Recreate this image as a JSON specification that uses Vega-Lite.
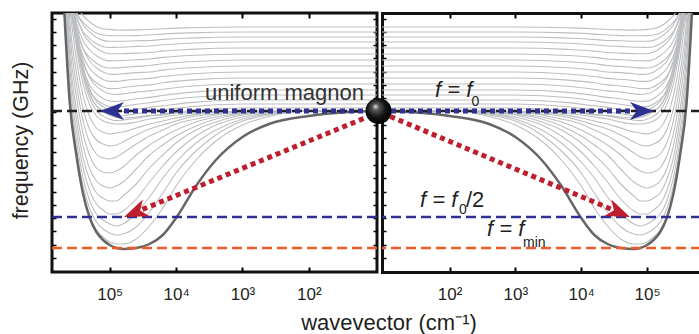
{
"$schema": "https://vega.github.io/schema/vega-lite/v6.json",
"padding": {"left": 8, "top": 10, "right": 0, "bottom": 0},
"background": "white",
"bounds": "flush",
"spacing": 5,
"config": {
  "font": "Liberation Sans",
  "view": {"stroke": null},
  "axis": {"grid": false, "domain": false, "tickColor": "#000", "labelColor": "#231f20", "titleColor": "#231f20", "labelFont": "Liberation Sans", "titleFont": "Liberation Sans", "titleFontWeight": "normal"}
},
"datasets": {
"levels": [{"f": 212, "n": "f0"}, {"f": 106, "n": "half"}, {"f": 75, "n": "min"}],
"dark": [
{"k":9.4,"f":212},{"k":31.6,"f":210.5},{"k":100,"f":207},{"k":398,"f":199},{"k":1000,"f":186},{"k":2512,"f":163},{"k":5012,"f":137},{"k":10000,"f":105},{"k":15849,"f":88},{"k":25119,"f":79},{"k":39811,"f":75},{"k":63096,"f":74},{"k":79433,"f":75},{"k":100000,"f":78},{"k":125893,"f":83},{"k":158489,"f":91},{"k":199526,"f":105},{"k":251189,"f":129},{"k":316228,"f":167},{"k":398107,"f":219},{"k":501187,"f":332}
],
"gray": [
{"c":"L1","k":9.4,"f":212},{"c":"L1","k":100,"f":212},{"c":"L1","k":398,"f":206.5},{"c":"L1","k":1000,"f":198},{"c":"L1","k":2512,"f":182},{"c":"L1","k":5012,"f":163},{"c":"L1","k":10000,"f":137},{"c":"L1","k":15849,"f":115},{"c":"L1","k":25119,"f":97},{"c":"L1","k":39811,"f":84},{"c":"L1","k":63096,"f":79},{"c":"L1","k":79433,"f":79},{"c":"L1","k":100000,"f":81},{"c":"L1","k":125893,"f":86},{"c":"L1","k":158489,"f":93},{"c":"L1","k":199526,"f":106},{"c":"L1","k":251189,"f":129},{"c":"L1","k":316228,"f":167},{"c":"L1","k":398107,"f":219},{"c":"L1","k":501187,"f":332},
{"c":"L2","k":9.4,"f":212},{"c":"L2","k":100,"f":212},{"c":"L2","k":398,"f":208},{"c":"L2","k":1000,"f":202},{"c":"L2","k":2512,"f":188},{"c":"L2","k":5012,"f":172},{"c":"L2","k":10000,"f":150},{"c":"L2","k":15849,"f":130},{"c":"L2","k":25119,"f":111},{"c":"L2","k":39811,"f":96},{"c":"L2","k":63096,"f":89},{"c":"L2","k":79433,"f":88},{"c":"L2","k":100000,"f":90},{"c":"L2","k":125893,"f":94},{"c":"L2","k":158489,"f":101},{"c":"L2","k":199526,"f":114},{"c":"L2","k":251189,"f":137},{"c":"L2","k":316228,"f":174},{"c":"L2","k":398107,"f":226},{"c":"L2","k":501187,"f":339},
{"c":"L3","k":9.4,"f":212},{"c":"L3","k":100,"f":212},{"c":"L3","k":398,"f":209},{"c":"L3","k":1000,"f":204},{"c":"L3","k":2512,"f":193},{"c":"L3","k":5012,"f":180},{"c":"L3","k":10000,"f":161},{"c":"L3","k":15849,"f":145},{"c":"L3","k":25119,"f":126},{"c":"L3","k":39811,"f":110},{"c":"L3","k":63096,"f":99},{"c":"L3","k":79433,"f":97},{"c":"L3","k":100000,"f":99},{"c":"L3","k":125893,"f":103},{"c":"L3","k":158489,"f":109},{"c":"L3","k":199526,"f":122},{"c":"L3","k":251189,"f":145},{"c":"L3","k":316228,"f":182},{"c":"L3","k":398107,"f":234},{"c":"L3","k":501187,"f":347},
{"c":"L4","k":9.4,"f":212},{"c":"L4","k":100,"f":212},{"c":"L4","k":398,"f":210},{"c":"L4","k":1000,"f":206},{"c":"L4","k":2512,"f":198},{"c":"L4","k":5012,"f":187},{"c":"L4","k":10000,"f":171},{"c":"L4","k":15849,"f":157},{"c":"L4","k":25119,"f":141},{"c":"L4","k":39811,"f":124},{"c":"L4","k":63096,"f":112},{"c":"L4","k":79433,"f":109},{"c":"L4","k":100000,"f":109},{"c":"L4","k":125893,"f":113},{"c":"L4","k":158489,"f":119},{"c":"L4","k":199526,"f":132},{"c":"L4","k":251189,"f":155},{"c":"L4","k":316228,"f":192},{"c":"L4","k":398107,"f":243},{"c":"L4","k":501187,"f":356},
{"c":"L5","k":9.4,"f":212},{"c":"L5","k":100,"f":212},{"c":"L5","k":398,"f":211},{"c":"L5","k":1000,"f":208},{"c":"L5","k":2512,"f":201},{"c":"L5","k":5012,"f":193},{"c":"L5","k":10000,"f":180},{"c":"L5","k":15849,"f":168},{"c":"L5","k":25119,"f":155},{"c":"L5","k":39811,"f":139},{"c":"L5","k":63096,"f":127},{"c":"L5","k":79433,"f":122},{"c":"L5","k":100000,"f":122},{"c":"L5","k":125893,"f":125},{"c":"L5","k":158489,"f":130},{"c":"L5","k":199526,"f":143},{"c":"L5","k":251189,"f":165},{"c":"L5","k":316228,"f":203},{"c":"L5","k":398107,"f":254},{"c":"L5","k":501187,"f":367},
{"c":"L6","k":9.4,"f":212},{"c":"L6","k":100,"f":212},{"c":"L6","k":398,"f":211},{"c":"L6","k":1000,"f":209},{"c":"L6","k":2512,"f":204},{"c":"L6","k":5012,"f":197},{"c":"L6","k":10000,"f":187},{"c":"L6","k":15849,"f":178},{"c":"L6","k":25119,"f":168},{"c":"L6","k":39811,"f":154},{"c":"L6","k":63096,"f":141},{"c":"L6","k":79433,"f":137},{"c":"L6","k":100000,"f":135},{"c":"L6","k":125893,"f":137},{"c":"L6","k":158489,"f":142},{"c":"L6","k":199526,"f":154},{"c":"L6","k":251189,"f":177},{"c":"L6","k":316228,"f":213},{"c":"L6","k":398107,"f":265},{"c":"L6","k":501187,"f":377},
{"c":"L7","k":9.4,"f":212},{"c":"L7","k":398,"f":212},{"c":"L7","k":1000,"f":210},{"c":"L7","k":2512,"f":206},{"c":"L7","k":5012,"f":201},{"c":"L7","k":10000,"f":193},{"c":"L7","k":15849,"f":186},{"c":"L7","k":25119,"f":178},{"c":"L7","k":39811,"f":168},{"c":"L7","k":63096,"f":156},{"c":"L7","k":79433,"f":152},{"c":"L7","k":100000,"f":150},{"c":"L7","k":125893,"f":151},{"c":"L7","k":158489,"f":155},{"c":"L7","k":199526,"f":167},{"c":"L7","k":251189,"f":189},{"c":"L7","k":316228,"f":226},{"c":"L7","k":398107,"f":277},{"c":"L7","k":501187,"f":389},
{"c":"L8","k":9.4,"f":212},{"c":"L8","k":398,"f":212},{"c":"L8","k":1000,"f":211},{"c":"L8","k":2512,"f":208},{"c":"L8","k":5012,"f":204},{"c":"L8","k":10000,"f":199},{"c":"L8","k":15849,"f":193},{"c":"L8","k":25119,"f":187},{"c":"L8","k":39811,"f":179},{"c":"L8","k":63096,"f":170},{"c":"L8","k":79433,"f":166},{"c":"L8","k":100000,"f":164},{"c":"L8","k":125893,"f":165},{"c":"L8","k":158489,"f":169},{"c":"L8","k":199526,"f":180},{"c":"L8","k":251189,"f":202},{"c":"L8","k":316228,"f":238},{"c":"L8","k":398107,"f":289},{"c":"L8","k":501187,"f":400},
{"c":"L9","k":9.4,"f":212},{"c":"L9","k":398,"f":212},{"c":"L9","k":1000,"f":211},{"c":"L9","k":2512,"f":209},{"c":"L9","k":5012,"f":207},{"c":"L9","k":10000,"f":202},{"c":"L9","k":15849,"f":198},{"c":"L9","k":25119,"f":194},{"c":"L9","k":39811,"f":188},{"c":"L9","k":63096,"f":181},{"c":"L9","k":79433,"f":178},{"c":"L9","k":100000,"f":177},{"c":"L9","k":125893,"f":179},{"c":"L9","k":158489,"f":183},{"c":"L9","k":199526,"f":193},{"c":"L9","k":251189,"f":214},{"c":"L9","k":316228,"f":250},{"c":"L9","k":398107,"f":301},{"c":"L9","k":501187,"f":412},
{"c":"L10","k":9.4,"f":212},{"c":"L10","k":1000,"f":212},{"c":"L10","k":2512,"f":210.5},{"c":"L10","k":5012,"f":208.6},{"c":"L10","k":10000,"f":205},{"c":"L10","k":15849,"f":202},{"c":"L10","k":25119,"f":199},{"c":"L10","k":39811,"f":195},{"c":"L10","k":63096,"f":191},{"c":"L10","k":79433,"f":190},{"c":"L10","k":100000,"f":189},{"c":"L10","k":125893,"f":191},{"c":"L10","k":158489,"f":195},{"c":"L10","k":199526,"f":206},{"c":"L10","k":251189,"f":227},{"c":"L10","k":316228,"f":263},{"c":"L10","k":398107,"f":313},
{"c":"L11","k":9.4,"f":212},{"c":"L11","k":2512,"f":211},{"c":"L11","k":5012,"f":210},{"c":"L11","k":10000,"f":208},{"c":"L11","k":15849,"f":206},{"c":"L11","k":25119,"f":204},{"c":"L11","k":39811,"f":201},{"c":"L11","k":63096,"f":199},{"c":"L11","k":79433,"f":199},{"c":"L11","k":100000,"f":200},{"c":"L11","k":125893,"f":202},{"c":"L11","k":158489,"f":207},{"c":"L11","k":199526,"f":218},{"c":"L11","k":251189,"f":239},{"c":"L11","k":316228,"f":275},{"c":"L11","k":398107,"f":325},
{"c":"L12","k":9.4,"f":212},{"c":"L12","k":5012,"f":211},{"c":"L12","k":10000,"f":210},{"c":"L12","k":15849,"f":208},{"c":"L12","k":25119,"f":207.5},{"c":"L12","k":39811,"f":206},{"c":"L12","k":63096,"f":205},{"c":"L12","k":79433,"f":205.5},{"c":"L12","k":100000,"f":208},{"c":"L12","k":125893,"f":212},{"c":"L12","k":158489,"f":217},{"c":"L12","k":199526,"f":229},{"c":"L12","k":251189,"f":251},{"c":"L12","k":316228,"f":287},{"c":"L12","k":398107,"f":337},
{"c":"U1","k":9.4,"f":215},{"c":"U1","k":1000,"f":215},{"c":"U1","k":6310,"f":212.3},{"c":"U1","k":15849,"f":208.8},{"c":"U1","k":25119,"f":207.1},{"c":"U1","k":39811,"f":204.8},{"c":"U1","k":63096,"f":202.9},{"c":"U1","k":79433,"f":202.4},{"c":"U1","k":100000,"f":203.7},{"c":"U1","k":125893,"f":206.9},{"c":"U1","k":158489,"f":212.4},{"c":"U1","k":199526,"f":224.2},{"c":"U1","k":251189,"f":246.2},{"c":"U1","k":316228,"f":282.7},{"c":"U1","k":398107,"f":333.7},
{"c":"U2","k":9.4,"f":219},{"c":"U2","k":1000,"f":219},{"c":"U2","k":6310,"f":216.3},{"c":"U2","k":15849,"f":213},{"c":"U2","k":25119,"f":211.3},{"c":"U2","k":39811,"f":209.2},{"c":"U2","k":63096,"f":207.3},{"c":"U2","k":79433,"f":206.9},{"c":"U2","k":100000,"f":208.2},{"c":"U2","k":125893,"f":211.6},{"c":"U2","k":158489,"f":217.2},{"c":"U2","k":199526,"f":229},{"c":"U2","k":251189,"f":251.1},{"c":"U2","k":316228,"f":287.6},{"c":"U2","k":398107,"f":338.7},
{"c":"U3","k":9.4,"f":223},{"c":"U3","k":1000,"f":223},{"c":"U3","k":6310,"f":220.4},{"c":"U3","k":15849,"f":217.2},{"c":"U3","k":25119,"f":215.6},{"c":"U3","k":39811,"f":213.5},{"c":"U3","k":63096,"f":211.8},{"c":"U3","k":79433,"f":211.4},{"c":"U3","k":100000,"f":212.8},{"c":"U3","k":125893,"f":216.3},{"c":"U3","k":158489,"f":221.9},{"c":"U3","k":199526,"f":233.8},{"c":"U3","k":251189,"f":255.9},{"c":"U3","k":316228,"f":292.5},{"c":"U3","k":398107,"f":343.6},
{"c":"U4","k":9.4,"f":228},{"c":"U4","k":1000,"f":228},{"c":"U4","k":6310,"f":225.5},{"c":"U4","k":15849,"f":222.3},{"c":"U4","k":25119,"f":220.3},{"c":"U4","k":39811,"f":218.8},{"c":"U4","k":63096,"f":216.7},{"c":"U4","k":79433,"f":215.9},{"c":"U4","k":100000,"f":216.4},{"c":"U4","k":125893,"f":218.9},{"c":"U4","k":158489,"f":223.6},{"c":"U4","k":199526,"f":231.6},{"c":"U4","k":251189,"f":248.8},{"c":"U4","k":316228,"f":278.4},{"c":"U4","k":398107,"f":320.5},
{"c":"U5","k":9.4,"f":233},{"c":"U5","k":1000,"f":233},{"c":"U5","k":6310,"f":230.6},{"c":"U5","k":15849,"f":227.5},{"c":"U5","k":25119,"f":225.6},{"c":"U5","k":39811,"f":224.2},{"c":"U5","k":63096,"f":222.2},{"c":"U5","k":79433,"f":221.5},{"c":"U5","k":100000,"f":222},{"c":"U5","k":125893,"f":224.6},{"c":"U5","k":158489,"f":229.4},{"c":"U5","k":199526,"f":237.4},{"c":"U5","k":251189,"f":254.6},{"c":"U5","k":316228,"f":284.3},{"c":"U5","k":398107,"f":326.4},
{"c":"U6","k":9.4,"f":239},{"c":"U6","k":1000,"f":239},{"c":"U6","k":6310,"f":236.7},{"c":"U6","k":15849,"f":233.8},{"c":"U6","k":25119,"f":232.1},{"c":"U6","k":39811,"f":230.9},{"c":"U6","k":63096,"f":229.1},{"c":"U6","k":79433,"f":228.5},{"c":"U6","k":100000,"f":229.2},{"c":"U6","k":125893,"f":231.9},{"c":"U6","k":158489,"f":236.9},{"c":"U6","k":199526,"f":245},{"c":"U6","k":251189,"f":262.3},{"c":"U6","k":316228,"f":292.1},{"c":"U6","k":398107,"f":334.3},
{"c":"U7","k":9.4,"f":245},{"c":"U7","k":1000,"f":245},{"c":"U7","k":6310,"f":242.9},{"c":"U7","k":15849,"f":240.2},{"c":"U7","k":25119,"f":238.1},{"c":"U7","k":39811,"f":237},{"c":"U7","k":63096,"f":235.5},{"c":"U7","k":79433,"f":234.5},{"c":"U7","k":100000,"f":234.4},{"c":"U7","k":125893,"f":236.3},{"c":"U7","k":158489,"f":240.3},{"c":"U7","k":199526,"f":246.6},{"c":"U7","k":251189,"f":259.1},{"c":"U7","k":316228,"f":281.9},{"c":"U7","k":398107,"f":319.1},
{"c":"U8","k":9.4,"f":251},{"c":"U8","k":1000,"f":251},{"c":"U8","k":6310,"f":249},{"c":"U8","k":15849,"f":246.5},{"c":"U8","k":25119,"f":244.6},{"c":"U8","k":39811,"f":243.7},{"c":"U8","k":63096,"f":242.4},{"c":"U8","k":79433,"f":241.6},{"c":"U8","k":100000,"f":241.6},{"c":"U8","k":125893,"f":243.6},{"c":"U8","k":158489,"f":247.8},{"c":"U8","k":199526,"f":254.2},{"c":"U8","k":251189,"f":266.8},{"c":"U8","k":316228,"f":289.7},{"c":"U8","k":398107,"f":327},
{"c":"U9","k":9.4,"f":257},{"c":"U9","k":1000,"f":257},{"c":"U9","k":6310,"f":255.2},{"c":"U9","k":15849,"f":252.9},{"c":"U9","k":25119,"f":251},{"c":"U9","k":39811,"f":250.4},{"c":"U9","k":63096,"f":249.2},{"c":"U9","k":79433,"f":248.6},{"c":"U9","k":100000,"f":248.8},{"c":"U9","k":125893,"f":250.9},{"c":"U9","k":158489,"f":255.3},{"c":"U9","k":199526,"f":261.8},{"c":"U9","k":251189,"f":274.5},{"c":"U9","k":316228,"f":297.5},{"c":"U9","k":398107,"f":334.8},
{"c":"U10","k":9.4,"f":263},{"c":"U10","k":1000,"f":263},{"c":"U10","k":6310,"f":261.3},{"c":"U10","k":15849,"f":259.2},{"c":"U10","k":25119,"f":257.5},{"c":"U10","k":39811,"f":256.6},{"c":"U10","k":63096,"f":255.6},{"c":"U10","k":79433,"f":255.1},{"c":"U10","k":100000,"f":255},{"c":"U10","k":125893,"f":256.3},{"c":"U10","k":158489,"f":259.8},{"c":"U10","k":199526,"f":265.4},{"c":"U10","k":251189,"f":274.2},{"c":"U10","k":316228,"f":292.3},{"c":"U10","k":398107,"f":322.7},
{"c":"U11","k":9.4,"f":269},{"c":"U11","k":1000,"f":269},{"c":"U11","k":6310,"f":267.5},{"c":"U11","k":15849,"f":265.6},{"c":"U11","k":25119,"f":264},{"c":"U11","k":39811,"f":263.2},{"c":"U11","k":63096,"f":262.5},{"c":"U11","k":79433,"f":262.2},{"c":"U11","k":100000,"f":262.1},{"c":"U11","k":125893,"f":263.6},{"c":"U11","k":158489,"f":267.2},{"c":"U11","k":199526,"f":273},{"c":"U11","k":251189,"f":281.9},{"c":"U11","k":316228,"f":300.1},{"c":"U11","k":398107,"f":330.5},
{"c":"U12","k":9.4,"f":275},{"c":"U12","k":1000,"f":275},{"c":"U12","k":6310,"f":273.6},{"c":"U12","k":15849,"f":271.9},{"c":"U12","k":25119,"f":270.5},{"c":"U12","k":39811,"f":269.9},{"c":"U12","k":63096,"f":269.4},{"c":"U12","k":79433,"f":269.2},{"c":"U12","k":100000,"f":269.3},{"c":"U12","k":125893,"f":271},{"c":"U12","k":158489,"f":274.7},{"c":"U12","k":199526,"f":280.6},{"c":"U12","k":251189,"f":289.6},{"c":"U12","k":316228,"f":307.9},{"c":"U12","k":398107,"f":338.4},
{"c":"U13","k":9.4,"f":281},{"c":"U13","k":1000,"f":281},{"c":"U13","k":6310,"f":279.8},{"c":"U13","k":15849,"f":278.2},{"c":"U13","k":25119,"f":277},{"c":"U13","k":39811,"f":276.6},{"c":"U13","k":63096,"f":275.8},{"c":"U13","k":79433,"f":275.7},{"c":"U13","k":100000,"f":275.5},{"c":"U13","k":125893,"f":276.3},{"c":"U13","k":158489,"f":279.2},{"c":"U13","k":199526,"f":284.2},{"c":"U13","k":251189,"f":291.3},{"c":"U13","k":316228,"f":304.6},{"c":"U13","k":398107,"f":328.2},
{"c":"U14","k":9.4,"f":286},{"c":"U14","k":1000,"f":286},{"c":"U14","k":6310,"f":284.9},{"c":"U14","k":15849,"f":283.6},{"c":"U14","k":25119,"f":282.5},{"c":"U14","k":39811,"f":282.3},{"c":"U14","k":63096,"f":281.7},{"c":"U14","k":79433,"f":281.7},{"c":"U14","k":100000,"f":281.7},{"c":"U14","k":125893,"f":282.6},{"c":"U14","k":158489,"f":285.7},{"c":"U14","k":199526,"f":290.8},{"c":"U14","k":251189,"f":298},{"c":"U14","k":316228,"f":311.4},{"c":"U14","k":398107,"f":335.1},
{"c":"U15","k":9.4,"f":291},{"c":"U15","k":1000,"f":291},{"c":"U15","k":6310,"f":290.1},{"c":"U15","k":15849,"f":288.9},{"c":"U15","k":25119,"f":288},{"c":"U15","k":39811,"f":287.4},{"c":"U15","k":63096,"f":287.2},{"c":"U15","k":79433,"f":287.2},{"c":"U15","k":100000,"f":287.4},{"c":"U15","k":125893,"f":288},{"c":"U15","k":158489,"f":290.1},{"c":"U15","k":199526,"f":294.4},{"c":"U15","k":251189,"f":300.7},{"c":"U15","k":316228,"f":310.2},{"c":"U15","k":398107,"f":328.9},
{"c":"U16","k":9.4,"f":296},{"c":"U16","k":1000,"f":296},{"c":"U16","k":6310,"f":295.2},{"c":"U16","k":15849,"f":294.3},{"c":"U16","k":25119,"f":293.5},{"c":"U16","k":39811,"f":293.1},{"c":"U16","k":63096,"f":292.9},{"c":"U16","k":79433,"f":293},{"c":"U16","k":100000,"f":293.6},{"c":"U16","k":125893,"f":294.3},{"c":"U16","k":158489,"f":296.6},{"c":"U16","k":199526,"f":301},{"c":"U16","k":251189,"f":307.4},{"c":"U16","k":316228,"f":317},{"c":"U16","k":398107,"f":336}
]
},
"hconcat": [
{
  "width": 325, "height": 259,
  "view": {"stroke": "#111111", "strokeWidth": 3},
  "resolve": {"axis": {"x": "independent", "y": "independent"}},
  "layer": [
    {
      "data": {"name": "gray"},
      "mark": {"type": "line", "interpolate": "monotone", "clip": true, "color": "#bcbec0", "strokeWidth": 1.1},
      "encoding": {
        "x": {"field": "k", "type": "quantitative",
          "scale": {"type": "log", "domain": [9.4, 740000], "reverse": true, "nice": false},
          "axis": {"orient": "bottom", "values": [100, 1000, 10000, 100000],
            "labelExpr": "datum.value == 100 ? '10²' : datum.value == 1000 ? '10³' : datum.value == 10000 ? '10⁴' : '10⁵'",
            "tickSize": -5, "tickWidth": 2, "labelFontSize": 17, "labelPadding": 19,
            "title": "wavevector (cm⁻¹)", "titleFontSize": 22, "titleX": 336.5, "titleY": 57, "titleBaseline": "alphabetic", "titleAlign": "center"}},
        "y": {"field": "f", "type": "quantitative",
          "scale": {"domain": [51, 310], "nice": false, "zero": false},
          "axis": {"orient": "left", "values": [65,78.3,91.6,104.9,118.2,131.5,144.8,158.1,171.4,184.7,198,211.3,224.6,237.9,251.2,264.5,277.8,291.1,304.4],
            "labels": false, "tickSize": -4, "tickWidth": 1.5,
            "title": "frequency (GHz)", "titleFontSize": 21.5, "titleX": -25, "titleY": 127, "titleBaseline": "alphabetic", "titleAngle": 270, "titleAlign": "center"}},
        "detail": {"field": "c"}
      }
    },
    {
      "data": {"name": "dark"},
      "mark": {"type": "line", "interpolate": "monotone", "clip": true, "color": "#666666", "strokeWidth": 2.5},
      "encoding": {
        "x": {"field": "k", "type": "quantitative",
          "axis": {"orient": "top", "values": [100, 1000, 10000, 100000], "labels": false, "tickSize": -5, "tickWidth": 2, "title": null}},
        "y": {"field": "f", "type": "quantitative",
          "axis": {"orient": "right", "values": [65,78.3,91.6,104.9,118.2,131.5,144.8,158.1,171.4,184.7,198,211.3,224.6,237.9,251.2,264.5,277.8,291.1,304.4], "labels": false, "tickSize": -4, "tickWidth": 1.5, "title": null}}
      }
    },
    {"data": {"name": "levels"},
     "mark": {"type": "rule", "strokeWidth": 2.5, "strokeDash": [10, 5]},
     "encoding": {"y": {"field": "f", "type": "quantitative", "axis": null},
       "color": {"field": "n", "type": "nominal", "legend": null, "scale": {"domain": ["f0", "half", "min"], "range": ["#231f20", "#2e3192", "#f15a29"]}}}},
    {"data": {"values": [{"k": 9.4, "f": 212}, {"k": 60900, "f": 212}]},
     "mark": {"type": "line", "color": "#2e3192", "strokeWidth": 5, "strokeDash": [5, 4], "strokeCap": "butt"},
     "encoding": {"x": {"field": "k", "type": "quantitative", "axis": null}, "y": {"field": "f", "type": "quantitative", "axis": null}}},
    {"data": {"values": [{"k": 9.4, "f": 210}, {"k": 32050, "f": 113.6}]},
     "mark": {"type": "line", "color": "#be1e2d", "strokeWidth": 5, "strokeDash": [5, 4], "strokeCap": "butt"},
     "encoding": {"x": {"field": "k", "type": "quantitative", "axis": null}, "y": {"field": "f", "type": "quantitative", "axis": null}}},
    {"data": {"values": [{"k": 140000, "f": 212}]},
     "mark": {"type": "point", "shape": "M0,0L2,-0.75L1.45,0L2,0.75Z", "size": 576, "filled": true, "opacity": 1, "color": "#2e3192", "strokeWidth": 0},
     "encoding": {"x": {"field": "k", "type": "quantitative", "axis": null}, "y": {"field": "f", "type": "quantitative", "axis": null}}},
    {"data": {"values": [{"k": 60900, "f": 106}]},
     "mark": {"type": "point", "shape": "M0,0L2,-0.75L1.45,0L2,0.75Z", "size": 576, "filled": true, "opacity": 1, "color": "#be1e2d", "strokeWidth": 0, "angle": 337.7},
     "encoding": {"x": {"field": "k", "type": "quantitative", "axis": null}, "y": {"field": "f", "type": "quantitative", "axis": null}}},
    {"data": {"values": [{"k": 14.8, "f": 223, "t": "uniform magnon"}]},
     "mark": {"type": "text", "align": "right", "baseline": "alphabetic", "fontSize": 22, "color": "#333333"},
     "encoding": {"x": {"field": "k", "type": "quantitative", "axis": null}, "y": {"field": "f", "type": "quantitative", "axis": null}, "text": {"field": "t"}}}
  ]
},
{
  "width": 319, "height": 259,
  "resolve": {"axis": {"x": "independent", "y": "independent"}},
  "layer": [
    {
      "data": {"name": "gray"},
      "mark": {"type": "line", "interpolate": "monotone", "clip": true, "color": "#bcbec0", "strokeWidth": 1.1},
      "encoding": {
        "x": {"field": "k", "type": "quantitative",
          "scale": {"type": "log", "domain": [9.4, 661000], "nice": false},
          "axis": {"orient": "bottom", "values": [100, 1000, 10000, 100000],
            "labelExpr": "datum.value == 100 ? '10²' : datum.value == 1000 ? '10³' : datum.value == 10000 ? '10⁴' : '10⁵'",
            "tickSize": -5, "tickWidth": 2, "labelFontSize": 17, "labelPadding": 19, "title": null,
            "domain": true, "domainWidth": 3, "domainColor": "#111111"}},
        "y": {"field": "f", "type": "quantitative",
          "scale": {"domain": [51, 310], "nice": false, "zero": false},
          "axis": {"orient": "left", "values": [65,78.3,91.6,104.9,118.2,131.5,144.8,158.1,171.4,184.7,198,211.3,224.6,237.9,251.2,264.5,277.8,291.1,304.4],
            "labels": false, "tickSize": -4, "tickWidth": 1.5, "title": null,
            "domain": true, "domainWidth": 3, "domainColor": "#111111", "domainCap": "square"}},
        "detail": {"field": "c"}
      }
    },
    {
      "data": {"name": "dark"},
      "mark": {"type": "line", "interpolate": "monotone", "clip": true, "color": "#666666", "strokeWidth": 2.5},
      "encoding": {
        "x": {"field": "k", "type": "quantitative",
          "axis": {"orient": "top", "values": [100, 1000, 10000, 100000], "labels": false, "tickSize": -5, "tickWidth": 2, "title": null,
            "domain": true, "domainWidth": 3, "domainColor": "#111111"}},
        "y": {"field": "f", "type": "quantitative", "axis": null}
      }
    },
    {"data": {"name": "levels"},
     "mark": {"type": "rule", "strokeWidth": 2.5, "strokeDash": [10, 5]},
     "encoding": {"y": {"field": "f", "type": "quantitative", "axis": null},
       "color": {"field": "n", "type": "nominal", "legend": null, "scale": {"domain": ["f0", "half", "min"], "range": ["#231f20", "#2e3192", "#f15a29"]}}}},
    {"data": {"values": [{"k": 9.4, "f": 212}, {"k": 55140, "f": 212}]},
     "mark": {"type": "line", "color": "#2e3192", "strokeWidth": 5, "strokeDash": [5, 4], "strokeCap": "butt"},
     "encoding": {"x": {"field": "k", "type": "quantitative", "axis": null}, "y": {"field": "f", "type": "quantitative", "axis": null}}},
    {"data": {"values": [{"k": 9.4, "f": 210}, {"k": 28870, "f": 113.7}]},
     "mark": {"type": "line", "color": "#be1e2d", "strokeWidth": 5, "strokeDash": [5, 4], "strokeCap": "butt"},
     "encoding": {"x": {"field": "k", "type": "quantitative", "axis": null}, "y": {"field": "f", "type": "quantitative", "axis": null}}},
    {"data": {"values": [{"k": 127700, "f": 212}]},
     "mark": {"type": "point", "shape": "M0,0L-2,-0.75L-1.45,0L-2,0.75Z", "size": 576, "filled": true, "opacity": 1, "color": "#2e3192", "strokeWidth": 0},
     "encoding": {"x": {"field": "k", "type": "quantitative", "axis": null}, "y": {"field": "f", "type": "quantitative", "axis": null}}},
    {"data": {"values": [{"k": 55140, "f": 106}]},
     "mark": {"type": "point", "shape": "M0,0L-2,-0.75L-1.45,0L-2,0.75Z", "size": 576, "filled": true, "opacity": 1, "color": "#be1e2d", "strokeWidth": 0, "angle": 22.7},
     "encoding": {"x": {"field": "k", "type": "quantitative", "axis": null}, "y": {"field": "f", "type": "quantitative", "axis": null}}},
    {"data": {"values": [{"k": 60, "f": 226, "t": "f = f"}, {"k": 35.5, "f": 116, "t": "f = f"}, {"k": 370, "f": 87, "t": "f = f"}]},
     "mark": {"type": "text", "align": "left", "baseline": "alphabetic", "fontSize": 22, "fontStyle": "italic", "color": "#231f20"},
     "encoding": {"x": {"field": "k", "type": "quantitative", "axis": null}, "y": {"field": "f", "type": "quantitative", "axis": null}, "text": {"field": "t"}}},
    {"data": {"values": [{"k": 215, "f": 217, "t": "0"}, {"k": 139, "f": 109, "t": "0"}, {"k": 1306, "f": 76, "t": "min"}]},
     "mark": {"type": "text", "align": "left", "baseline": "alphabetic", "fontSize": 14, "color": "#231f20"},
     "encoding": {"x": {"field": "k", "type": "quantitative", "axis": null}, "y": {"field": "f", "type": "quantitative", "axis": null}, "text": {"field": "t"}}},
    {"data": {"values": [{"k": 177.6, "f": 116, "t": "/2"}]},
     "mark": {"type": "text", "align": "left", "baseline": "alphabetic", "fontSize": 22, "color": "#231f20"},
     "encoding": {"x": {"field": "k", "type": "quantitative", "axis": null}, "y": {"field": "f", "type": "quantitative", "axis": null}, "text": {"field": "t"}}},
    {"data": {"values": [{"k": 9.4, "f": 212}]},
     "mark": {"type": "point", "shape": "circle", "size": 676, "filled": true, "opacity": 1, "xOffset": -3.5, "strokeWidth": 0,
       "fill": {"gradient": "radial", "x1": 0.38, "y1": 0.32, "r1": 0, "x2": 0.45, "y2": 0.45, "r2": 0.6,
         "stops": [{"offset": 0, "color": "#e0e0e0"}, {"offset": 0.22, "color": "#555555"}, {"offset": 0.6, "color": "#111111"}, {"offset": 1, "color": "#000000"}]}},
     "encoding": {"x": {"field": "k", "type": "quantitative", "axis": null}, "y": {"field": "f", "type": "quantitative", "axis": null}}}
  ]
}
]
}
